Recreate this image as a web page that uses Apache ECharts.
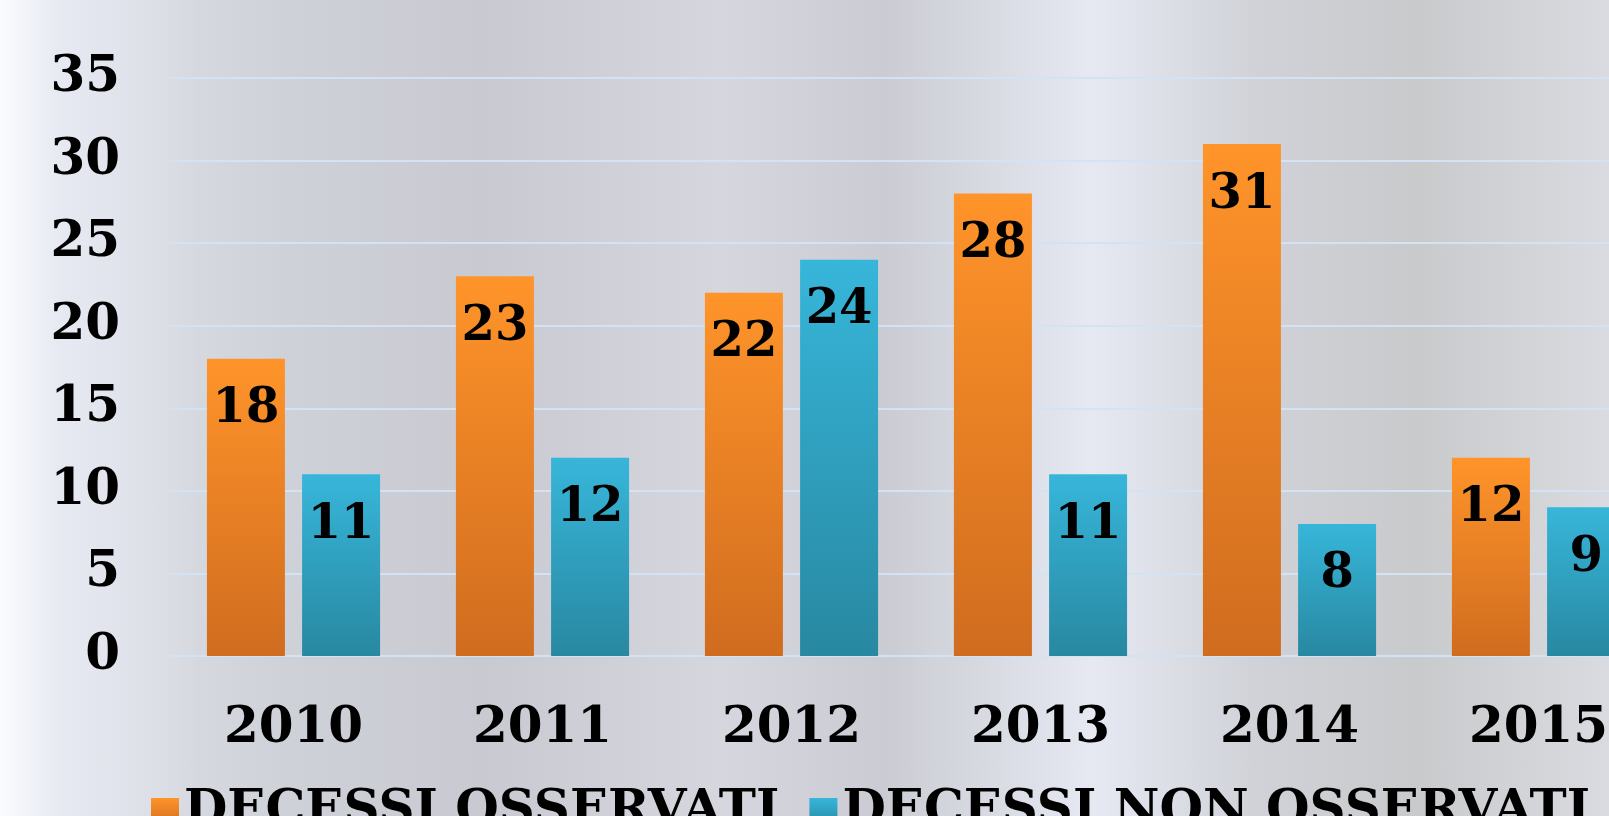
<!DOCTYPE html>
<html>
<head>
<meta charset="utf-8">
<script src="https://cdn.jsdelivr.net/npm/echarts@6/dist/echarts.min.js"></script>
<style>
  html, body { margin: 0; padding: 0; }
  body {
    width: 1609px; height: 816px; overflow: hidden;
    background:
      linear-gradient(90deg, rgba(250,252,255,0.95) 0px, rgba(235,238,246,0.6) 60px, rgba(0,0,0,0) 200px),
      linear-gradient(90deg, #e4e7ef 0%, #cfd1d8 18%, #c9cad1 30%, #d6d7de 45%, #cbccd3 55%, #e6e9f2 68%, #d0d2d8 78%, #c8cacc 88%, #d9dbe0 100%);
  }
  /* il grafico originale è tagliato a destra: il contenitore è più largo della finestra */
  #chart { width: 1700px; height: 816px; }
</style>
</head>
<body>
<div id="chart"></div>
<script>
// dati
const anni = ['2010', '2011', '2012', '2013', '2014', '2015']
const osservati = [18, 23, 22, 28, 31, 12]
const nonOsservati = [11, 12, 24, 11, 8, 9]
const yTicks = [0, 5, 10, 15, 20, 25, 30, 35]

const font = '"DejaVu Serif", serif'

const myChart = echarts.init(document.getElementById('chart'))

function grad(top, bottom) {
  return new echarts.graphic.LinearGradient(0, 0, 0, 1, [
    { offset: 0, color: top },
    { offset: 1, color: bottom }
  ])
}

const labelStyle = {
  show: true,
  position: 'insideTop',
  distance: 27,
  color: '#000',
  fontFamily: font,
  fontWeight: 'bold',
  fontSize: 48
}

const option = {
  backgroundColor: 'transparent',
  animation: false,
  grid: {
    left: 169,
    top: 78,
    width: 1494,
    height: 578
  },
  legend: {
    left: 146,
    top: 782,
    itemWidth: 28,
    itemHeight: 28,
    itemGap: 30,
    icon: 'rect',
    textStyle: {
      color: '#000',
      fontFamily: font,
      fontWeight: 'bold',
      fontSize: 50
    }
  },
  xAxis: {
    type: 'category',
    data: anni,
    axisLine: { show: false },
    axisTick: { show: false },
    axisLabel: {
      margin: 48,
      color: '#000',
      fontFamily: font,
      fontWeight: 'bold',
      fontSize: 50
    }
  },
  yAxis: {
    type: 'value',
    min: yTicks[0],
    max: yTicks[yTicks.length - 1],
    interval: 5,
    axisLine: { show: false },
    axisTick: { show: false },
    axisLabel: {
      margin: 49,
      padding: [6, 0, 0, 0],
      color: '#000',
      fontFamily: font,
      fontWeight: 'bold',
      fontSize: 50
    },
    splitLine: {
      lineStyle: { color: '#d3e3f3', width: 2 }
    }
  },
  series: [
    {
      name: 'DECESSI OSSERVATI',
      type: 'bar',
      data: osservati,
      barWidth: 78,
      barGap: '22%',
      itemStyle: { color: grad('#ff942a', '#d06c1f') },
      label: labelStyle
    },
    {
      name: 'DECESSI NON OSSERVATI',
      type: 'bar',
      data: nonOsservati,
      barWidth: 78,
      itemStyle: { color: grad('#37b6da', '#2888a1') },
      label: labelStyle
    }
  ]
}

myChart.setOption(option)
</script>
</body>
</html>
